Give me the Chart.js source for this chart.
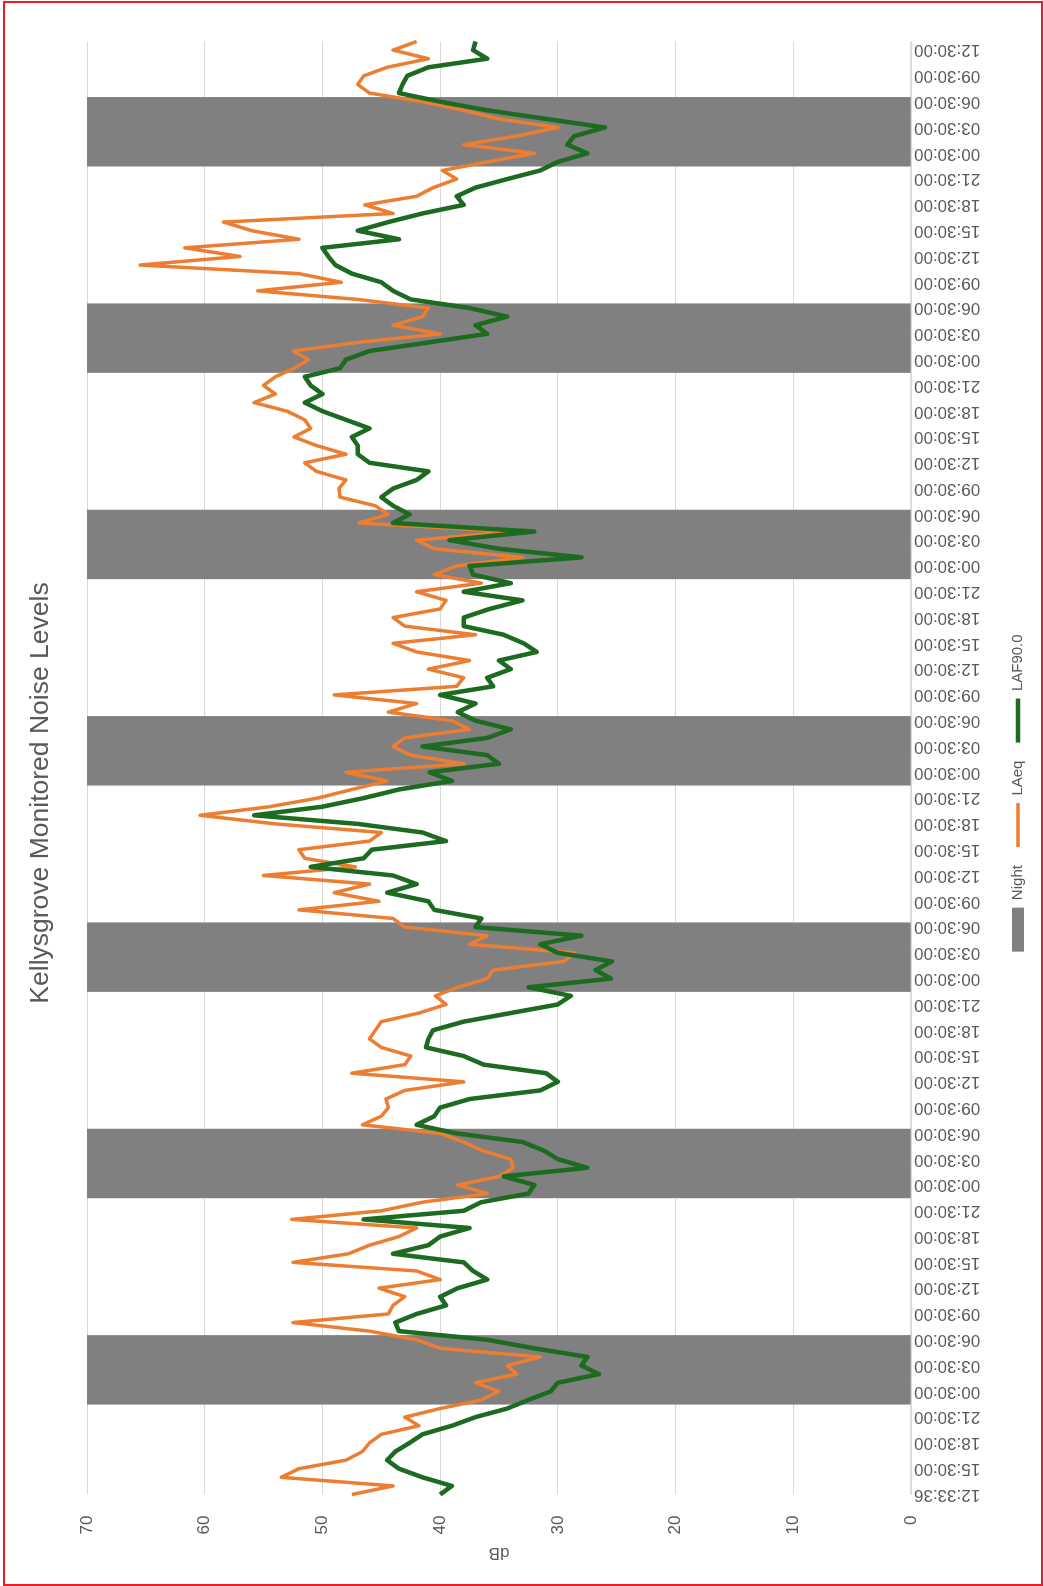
<!DOCTYPE html>
<html>
<head>
<meta charset="utf-8">
<title>Kellysgrove Monitored Noise Levels</title>
<script src="https://cdn.jsdelivr.net/npm/chart.js@4.4.1/dist/chart.umd.min.js"></script>
<style>
  html, body { margin: 0; padding: 0; background: #fff; overflow: hidden; width: 1044px; height: 1586px; }
  /* the chart is drawn upright and then turned a quarter turn anticlockwise */
  #turn { position: absolute; left: 0; top: 0; width: 1586px; height: 1044px; transform-origin: 0 0; transform: translate(0, 1586px) rotate(-90deg); }
  #frame { position: absolute; left: 3px; top: 1px; width: 1036px; height: 1581px; border: 2px solid #ee1c24; pointer-events: none; }
</style>
</head>
<body>
<div id="turn"><canvas id="noiseChart" width="1586" height="1044"></canvas></div>
<div id="frame"></div>
<script>
// hourly readings, first sample 12:33:36 then every hour on the half hour
const firstLabel = "12:33:36";
const timeLabels = [firstLabel];
for (let i = 1; i < 170; i++) {
  timeLabels.push(String((12 + i) % 24).padStart(2, "0") + ":30:00");
}

const night = [
  0,0,0,0,0,0,0,0,0,0,0,
  70,70,70,70,70,70,70,70, 0,0,0,0,0,0,0,0,0,0,0,0,0,0,0,0,
  70,70,70,70,70,70,70,70, 0,0,0,0,0,0,0,0,0,0,0,0,0,0,0,0,
  70,70,70,70,70,70,70,70, 0,0,0,0,0,0,0,0,0,0,0,0,0,0,0,0,
  70,70,70,70,70,70,70,70, 0,0,0,0,0,0,0,0,0,0,0,0,0,0,0,0,
  70,70,70,70,70,70,70,70, 0,0,0,0,0,0,0,0,0,0,0,0,0,0,0,0,
  70,70,70,70,70,70,70,70, 0,0,0,0,0,0,0,0,0,0,0,0,0,0,0,0,
  70,70,70,70,70,70,70,70, 0,0,0,0,0,0,0
];

const laeq = [
  47.5, 44, 53.5, 52, 48, 46.6, 46, 45, 41.8, 43, 40, 36.5, 35, 37, 33.5, 34.3, 31.5,
  40, 42, 46, 52.5, 44.4, 44, 43, 45.2, 40, 42, 52.5, 47.8, 46, 43.5, 42, 52.6, 45,
  41.5, 36, 38.5, 35, 33.8, 34, 36.4, 38, 40, 46.6, 45, 44.4, 44.6, 43, 38, 47.5, 43,
  42.5, 45, 46, 45.5, 45, 41.8, 39.5, 40.4, 38.5, 36, 35.5, 29.5, 28.6, 37.5, 36, 43, 44,
  52, 45.2, 49, 46, 55, 47.2, 51.5, 52, 46, 45, 54, 60.4, 54.5, 50.4, 47.5, 44.5, 48,
  38, 42.5, 44, 43, 37.5, 39, 44.4, 42, 49, 38.6, 38, 41, 37.5, 42, 44, 37, 43,
  44, 40, 39.5, 42, 36.5, 40.5, 38.6, 33, 40.5, 42, 34, 46.9, 44.4, 45.5, 48.5, 48.6, 48,
  50.5, 51.5, 48, 50.5, 52.4, 51, 51.5, 53, 55.8, 54, 55, 54, 52.4, 51.2, 52.5, 47, 40,
  44, 41.5, 41, 47, 55.5, 48.4, 52, 65.5, 57, 61.7, 52, 56, 58.4, 44, 46.4, 42, 40.6, 38.6,
  39.8, 36, 32, 38, 33.5, 30, 35, 38, 41.5, 46, 47, 46.5, 44.5, 41, 44, 42
];

const laf90 = [
  40, 39, 41.5, 43.5, 44.5, 43.8, 42.6, 41.5, 39, 37, 34.3, 32.5, 30.6, 30, 26.5, 28, 27.5,
  32, 36, 43.5, 43.8, 42, 39.5, 40, 38.5, 36, 37.2, 38, 44, 41, 40, 37.5, 46.5, 38,
  36.5, 32.5, 32, 34.6, 27.5, 30, 31.2, 33, 38.6, 42, 40.5, 40, 37.5, 31.5, 30, 31, 36.3,
  38, 41.2, 41, 40.6, 38, 34, 30, 28.9, 32.5, 25.5, 26.8, 25.4, 30, 31.5, 28, 37, 36.5,
  40.5, 41, 44.5, 42, 44, 51, 46.5, 45.8, 39.5, 41.5, 47, 55.8, 50, 46.5, 43.5, 39, 40.9,
  35, 36, 41.5, 36, 34, 37, 38.5, 37, 40, 35.5, 36, 34, 35, 31.8, 32.9, 34.6, 38,
  38, 35.8, 33, 38, 34, 37.2, 37.5, 28, 35, 39.2, 32, 44, 42.6, 44, 45, 44, 42,
  41, 46, 47, 47, 47.5, 46, 48, 50, 51.5, 50, 51, 51.5, 48.5, 48, 46, 41, 36,
  37, 34.3, 37.5, 42.5, 44, 45, 47.5, 48.9, 49.5, 50, 43.5, 47, 44.4, 41.5, 38, 38.6, 37, 34.3,
  31.5, 30, 27.5, 29.2, 28.6, 26, 31, 36, 40, 43.5, 43.2, 42.8, 41, 36, 37.2, 37
];

const FONT = '"Liberation Sans", Arial, sans-serif';
const TEXT = "#595959";
const GRID = "#d9d9d9";

const noiseChart = new Chart(document.getElementById("noiseChart"), {
  type: "bar",
  data: {
    labels: timeLabels,
    datasets: [
      {
        type: "bar",
        label: "Night",
        data: night,
        backgroundColor: "#808080",
        borderWidth: 0,
        barPercentage: 1,
        categoryPercentage: 1,
        pointStyle: "rect",
        order: 3
      },
      {
        type: "line",
        label: "LAeq",
        data: laeq,
        borderColor: "#ed7d31",
        backgroundColor: "#ed7d31",
        borderWidth: 3.5,
        borderJoinStyle: "round",
        pointRadius: 0,
        pointStyle: "line",
        tension: 0,
        order: 2
      },
      {
        type: "line",
        label: "LAF90.0",
        data: laf90,
        borderColor: "#1c6b20",
        backgroundColor: "#1c6b20",
        borderWidth: 4.5,
        borderJoinStyle: "round",
        pointRadius: 0,
        pointStyle: "line",
        tension: 0,
        order: 1
      }
    ]
  },
  options: {
    responsive: false,
    animation: false,
    layout: { padding: { left: 0, right: 0, top: 0, bottom: 8.5 } },
    plugins: {
      title: {
        display: true,
        text: "Kellysgrove Monitored Noise Levels",
        color: TEXT,
        font: { family: FONT, size: 26.5, weight: "normal", lineHeight: 1.2 },
        padding: { top: 25, bottom: 30.2 }
      },
      legend: {
        position: "bottom",
        labels: {
          usePointStyle: true,
          pointStyleWidth: 44,
          boxHeight: 12,
          padding: 18,
          color: TEXT,
          font: { family: FONT, size: 15 },
          sort: (a, b) => a.datasetIndex - b.datasetIndex
        }
      },
      tooltip: { enabled: false }
    },
    scales: {
      x: {
        offset: false,
        grid: { display: false, drawTicks: false },
        border: { display: true, color: GRID },
        ticks: {
          autoSkip: false,
          minRotation: 90,
          maxRotation: 90,
          padding: 3,
          color: TEXT,
          font: { family: FONT, size: 17 },
          callback: (value, index) => (index % 3 === 0 ? timeLabels[index] : "")
        },
        afterFit: scale => { scale.height = 81.5; }
      },
      y: {
        min: 0,
        max: 70,
        grid: { color: GRID, drawTicks: false },
        border: { display: false },
        ticks: { stepSize: 10, padding: 21, color: TEXT, font: { family: FONT, size: 17 } },
        title: {
          display: true,
          text: "dB",
          color: TEXT,
          font: { family: FONT, size: 17, lineHeight: 1.2 },
          padding: { top: 23, bottom: 0 }
        },
        afterFit: scale => { scale.width = 91.5; }
      },
      // empty strip on the far side so title and legend stay centred on the whole picture
      spacer: {
        type: "linear",
        position: "right",
        grid: { display: false, drawTicks: false },
        border: { display: false },
        ticks: { display: false },
        afterFit: scale => { scale.width = 41.5; }
      }
    }
  }
});
</script>
</body>
</html>
